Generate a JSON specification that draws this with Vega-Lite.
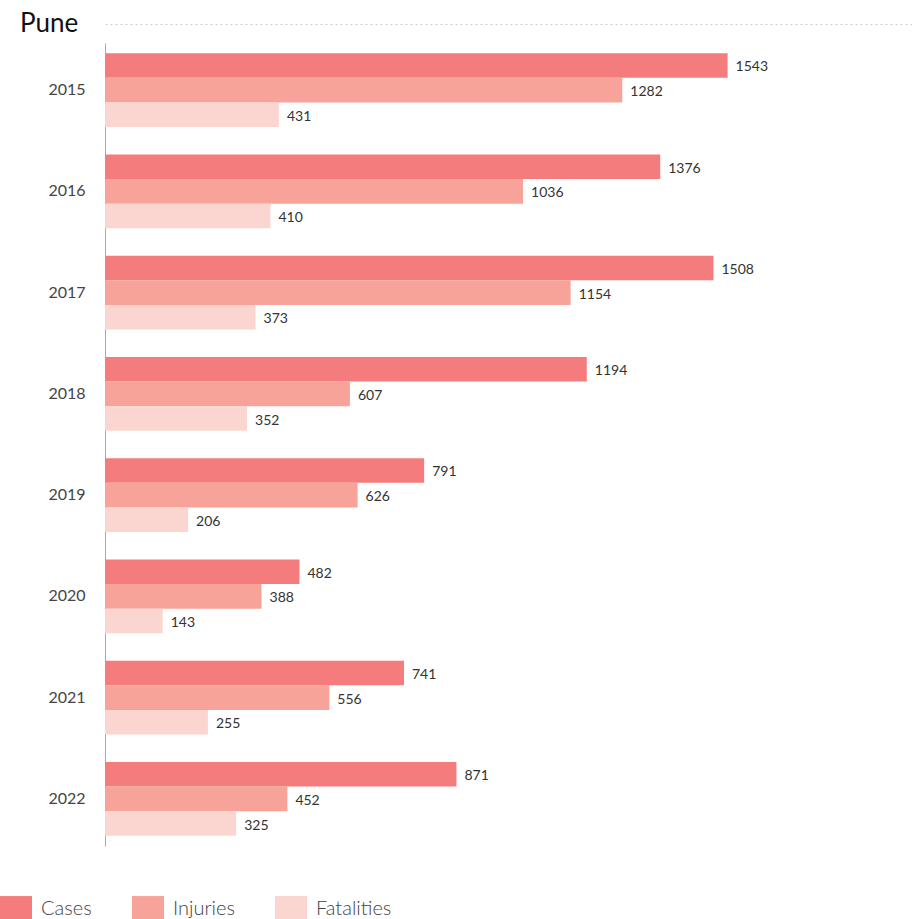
{
  "$schema": "https://vega.github.io/schema/vega-lite/v6.json",
  "autosize": "none",
  "width": 807,
  "height": 803,
  "padding": {"left": 105, "top": 43, "right": 0, "bottom": 73},
  "background": "white",
  "title": {"text": "Pune", "anchor": "start", "frame": "group", "fontSize": 26, "font": "Lato", "fontWeight": "normal", "color": "#111", "dx": -85, "offset": -13},
  "config": {"view": {"stroke": null}, "font": "Lato"},
  "data": {"values": [
    {"year": "2015", "metric": "Cases", "value": 1543},
    {"year": "2015", "metric": "Injuries", "value": 1282},
    {"year": "2015", "metric": "Fatalities", "value": 431},
    {"year": "2016", "metric": "Cases", "value": 1376},
    {"year": "2016", "metric": "Injuries", "value": 1036},
    {"year": "2016", "metric": "Fatalities", "value": 410},
    {"year": "2017", "metric": "Cases", "value": 1508},
    {"year": "2017", "metric": "Injuries", "value": 1154},
    {"year": "2017", "metric": "Fatalities", "value": 373},
    {"year": "2018", "metric": "Cases", "value": 1194},
    {"year": "2018", "metric": "Injuries", "value": 607},
    {"year": "2018", "metric": "Fatalities", "value": 352},
    {"year": "2019", "metric": "Cases", "value": 791},
    {"year": "2019", "metric": "Injuries", "value": 626},
    {"year": "2019", "metric": "Fatalities", "value": 206},
    {"year": "2020", "metric": "Cases", "value": 482},
    {"year": "2020", "metric": "Injuries", "value": 388},
    {"year": "2020", "metric": "Fatalities", "value": 143},
    {"year": "2021", "metric": "Cases", "value": 741},
    {"year": "2021", "metric": "Injuries", "value": 556},
    {"year": "2021", "metric": "Fatalities", "value": 255},
    {"year": "2022", "metric": "Cases", "value": 871},
    {"year": "2022", "metric": "Injuries", "value": 452},
    {"year": "2022", "metric": "Fatalities", "value": 325}
  ]},
  "encoding": {
    "y": {"field": "year", "type": "nominal",
      "scale": {"paddingInner": 0.27, "paddingOuter": 0.1},
      "axis": {"title": null, "ticks": false, "domainColor": "#aaa", "labelFontSize": 16, "labelFontWeight": "normal", "labelColor": "#444", "labelPadding": 20}},
    "yOffset": {"field": "metric", "type": "nominal", "sort": ["Cases", "Injuries", "Fatalities"], "scale": {"paddingInner": 0, "paddingOuter": 0}},
    "x": {"field": "value", "type": "quantitative", "scale": {"domain": [0, 2000]},
      "axis": {"orient": "top", "title": null, "labels": false, "ticks": false, "grid": false, "domainColor": "#ccc", "domainDash": [2, 3], "offset": 19}}
  },
  "layer": [
    {"mark": {"type": "bar"},
      "encoding": {
        "color": {"field": "metric", "type": "nominal", "sort": ["Cases", "Injuries", "Fatalities"],
          "scale": {"domain": ["Cases", "Injuries", "Fatalities"], "range": ["#f47c7c", "#f7a399", "#fbd6d0"]},
          "legend": {"title": null, "orient": "none", "direction": "horizontal", "legendX": -105, "legendY": 850, "symbolType": "M-1,-0.81H1V0.81H-1Z", "symbolSize": 1024, "symbolOpacity": 1, "symbolStrokeWidth": 0, "labelFontSize": 20, "labelFontWeight": 300, "labelColor": "#444", "columnPadding": 40, "labelOffset": 9}}
      }},
    {"mark": {"type": "text", "align": "left", "dx": 8, "dy": 2, "fontSize": 14, "fontWeight": "normal", "color": "#333"},
      "encoding": {"text": {"field": "value", "type": "quantitative"}}}
  ]
}
